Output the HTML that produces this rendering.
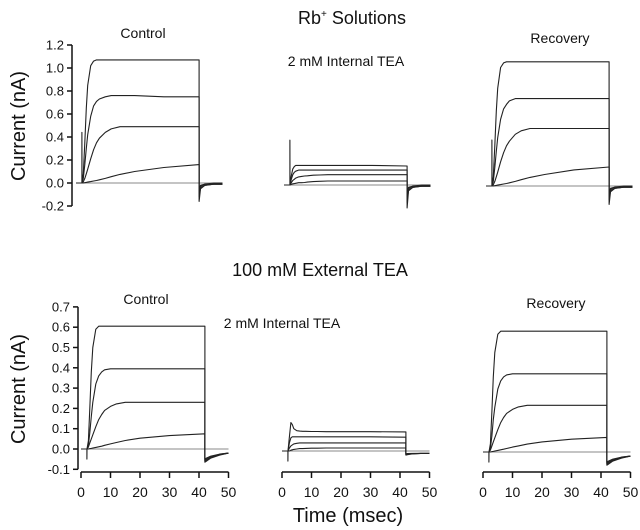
<!DOCTYPE html>
<html><head><meta charset="utf-8"><style>
body{margin:0;background:#fff;width:640px;height:530px;overflow:hidden}
svg{display:block}
text{font-family:"Liberation Sans",sans-serif;fill:#111}
</style></head><body>
<svg id="fig" width="640" height="530" viewBox="0 0 640 530">
<text x="352" y="24" font-size="18" text-anchor="middle">Rb<tspan dy="-7" font-size="10">+</tspan><tspan dy="7"> Solutions</tspan></text>
<text x="143" y="38" font-size="14" text-anchor="middle">Control</text>
<text x="346" y="66" font-size="14" text-anchor="middle">2 mM Internal TEA</text>
<text x="560" y="43" font-size="14" text-anchor="middle">Recovery</text>
<text x="320" y="276" font-size="18" text-anchor="middle">100 mM External TEA</text>
<text x="146" y="304" font-size="14" text-anchor="middle">Control</text>
<text x="282" y="328" font-size="14" text-anchor="middle">2 mM Internal TEA</text>
<text x="556" y="308" font-size="14" text-anchor="middle">Recovery</text>
<text transform="translate(25,126) rotate(-90)" font-size="20" text-anchor="middle">Current (nA)</text>
<text transform="translate(25,389) rotate(-90)" font-size="20" text-anchor="middle">Current (nA)</text>
<text x="348" y="522" font-size="20" text-anchor="middle">Time (msec)</text>
<g id="plot"></g>
</svg>
<script>
const times=[0,2,2,2.05,2.5,3,3.5,4,5,6,7,8,10,12,15,20,30,42,42,42.5,44,47,50];
const topTicks=["-0.2","0.0","0.2","0.4","0.6","0.8","1.0","1.2"];
const botTicks=["-0.1","0.0","0.1","0.2","0.3","0.4","0.5","0.6","0.7"];
const xTicks=["0","10","20","30","40","50"];
// top control
const tc1=[0,0,0.44,0,0.08,0.35,0.65,0.85,1.02,1.06,1.07,1.07,1.07,1.07,1.07,1.07,1.07,1.07,-0.16,-0.05,-0.02,-0.01,-0.01];
const tc2=[0,0,0,0,0.04,0.16,0.3,0.42,0.58,0.67,0.71,0.73,0.75,0.76,0.76,0.76,0.75,0.75,-0.12,-0.04,-0.02,-0.01,-0.01];
const tc3=[0,0,0,0,0.01,0.04,0.08,0.12,0.21,0.29,0.35,0.39,0.44,0.47,0.49,0.49,0.49,0.49,-0.09,-0.03,-0.01,-0.01,-0.01];
const tc4=[0,0,0,0,0,0.003,0.005,0.008,0.012,0.017,0.022,0.028,0.04,0.055,0.075,0.1,0.135,0.16,-0.05,-0.02,-0.01,0,0];
// top internal TEA
const tm1=[0,0,0.39,0,0.08,0.14,0.16,0.17,0.17,0.17,0.17,0.17,0.17,0.17,0.17,0.17,0.17,0.165,-0.2,-0.05,-0.02,-0.01,-0.01];
const tm2=[0,0,0,0,0.05,0.09,0.11,0.12,0.13,0.13,0.13,0.13,0.13,0.13,0.13,0.13,0.13,0.13,-0.15,-0.04,-0.02,-0.01,-0.01];
const tm3=[0,0,0,0,0.02,0.04,0.05,0.06,0.07,0.075,0.078,0.08,0.085,0.087,0.09,0.09,0.09,0.09,-0.1,-0.03,-0.01,-0.01,-0.01];
const tm4=[0,0,0,0,0.005,0.01,0.012,0.015,0.02,0.02,0.022,0.025,0.03,0.032,0.035,0.035,0.035,0.035,-0.06,-0.02,-0.01,0,0];
// top recovery
const tr1=[0,0,0.4,0,0.08,0.35,0.65,0.85,1.03,1.07,1.08,1.08,1.08,1.08,1.08,1.08,1.08,1.08,-0.16,-0.05,-0.02,-0.01,-0.01];
const tr2=[0,0,0,0,0.04,0.16,0.3,0.42,0.58,0.67,0.71,0.74,0.76,0.76,0.76,0.76,0.76,0.76,-0.12,-0.04,-0.02,-0.01,-0.01];
const tr3=[0,0,0,0,0.01,0.04,0.08,0.12,0.21,0.29,0.35,0.39,0.45,0.48,0.5,0.5,0.5,0.5,-0.09,-0.03,-0.01,-0.01,-0.01];
const tr4=[0,0,0,0,0,0.003,0.005,0.008,0.012,0.017,0.022,0.028,0.04,0.055,0.075,0.1,0.14,0.165,-0.05,-0.02,-0.01,0,0];
// bottom control
const bc1=[0,0,-0.05,0,0.04,0.2,0.38,0.5,0.59,0.605,0.605,0.605,0.605,0.605,0.605,0.605,0.605,0.605,-0.065,-0.06,-0.045,-0.03,-0.02];
const bc2=[0,0,0,0,0.02,0.08,0.16,0.23,0.32,0.36,0.38,0.39,0.395,0.395,0.395,0.395,0.395,0.395,-0.06,-0.055,-0.04,-0.028,-0.02];
const bc3=[0,0,0,0,0.01,0.03,0.05,0.07,0.11,0.145,0.17,0.19,0.21,0.222,0.23,0.23,0.23,0.23,-0.055,-0.05,-0.04,-0.026,-0.02];
const bc4=[0,0,0,0,0,0.002,0.003,0.005,0.008,0.011,0.014,0.018,0.025,0.032,0.042,0.053,0.066,0.075,-0.05,-0.045,-0.035,-0.025,-0.02];
// bottom internal TEA
const bm1=[0,0,-0.05,0,0.07,0.14,0.13,0.11,0.1,0.098,0.097,0.097,0.096,0.096,0.095,0.095,0.095,0.094,-0.02,-0.018,-0.015,-0.012,-0.012];
const bm2=[0,0,0,0,0.04,0.065,0.07,0.07,0.07,0.07,0.07,0.07,0.07,0.07,0.07,0.07,0.07,0.068,-0.018,-0.016,-0.014,-0.012,-0.012];
const bm3=[0,0,0,0,0.015,0.025,0.03,0.035,0.038,0.04,0.04,0.04,0.04,0.04,0.04,0.04,0.04,0.04,-0.016,-0.014,-0.013,-0.012,-0.012];
const bm4=[0,0,0,0,0,0.004,0.006,0.008,0.01,0.012,0.012,0.013,0.014,0.014,0.015,0.015,0.015,0.015,-0.014,-0.013,-0.012,-0.012,-0.012];
// bottom recovery
const br1=[0,0,-0.05,0,0.04,0.2,0.37,0.49,0.58,0.595,0.595,0.595,0.595,0.595,0.595,0.595,0.595,0.595,-0.065,-0.06,-0.045,-0.03,-0.02];
const br2=[0,0,0,0,0.02,0.08,0.16,0.22,0.31,0.35,0.37,0.38,0.385,0.385,0.385,0.385,0.385,0.385,-0.06,-0.055,-0.04,-0.028,-0.02];
const br3=[0,0,0,0,0.01,0.03,0.05,0.07,0.11,0.145,0.17,0.19,0.21,0.222,0.23,0.23,0.23,0.23,-0.055,-0.05,-0.04,-0.026,-0.02];
const br4=[0,0,0,0,0,0.002,0.003,0.005,0.008,0.011,0.014,0.017,0.024,0.03,0.039,0.05,0.063,0.072,-0.05,-0.045,-0.035,-0.025,-0.02];

const NS="http://www.w3.org/2000/svg";
const plot=document.getElementById('plot');
function mk(tag,attrs){const e=document.createElementNS(NS,tag);for(const k in attrs)e.setAttribute(k,attrs[k]);plot.appendChild(e);return e;}
const panels=[
 {id:'top-control',x0:76,sx:2.93,y0:183,sy:115,tr:[tc1,tc2,tc3,tc4]},
 {id:'top-internal-tea',x0:284,sx:2.93,y0:185,sy:115,tr:[tm1,tm2,tm3,tm4]},
 {id:'top-recovery',x0:486,sx:2.93,y0:186,sy:115,tr:[tr1,tr2,tr3,tr4]},
 {id:'bottom-control',x0:81,sx:2.95,y0:449,sy:203,tr:[bc1,bc2,bc3,bc4]},
 {id:'bottom-internal-tea',x0:282,sx:2.95,y0:451,sy:203,tr:[bm1,bm2,bm3,bm4]},
 {id:'bottom-recovery',x0:483,sx:2.95,y0:452,sy:203,tr:[br1,br2,br3,br4]}
];
panels.forEach(p=>{
 const X=t=>p.x0+t*p.sx, Y=v=>p.y0-v*p.sy;
 const b=mk('line',{x1:X(0),x2:X(50),y1:Y(0),y2:Y(0),stroke:'#888','stroke-width':1});
 
 
 p.tr.forEach((vals,i)=>{
  const pts=times.map((t,j)=>X(t).toFixed(1)+','+Y(vals[j]).toFixed(1)).join(' ');
  const pl=mk('polyline',{points:pts,fill:'none',stroke:'#222','stroke-width':1.1,'stroke-linejoin':'round'});
  
  
 });
});
function yAxis(name,ax,y0,sy,ticks){
 const vals=ticks.map(Number);
 const Y=v=>y0-v*sy;
 const l=mk('line',{x1:ax,x2:ax,y1:Y(vals[vals.length-1]),y2:Y(vals[0]),stroke:'#111','stroke-width':1.5});
 
 
 ticks.forEach((s,i)=>{
  mk('line',{x1:ax-5,x2:ax,y1:Y(vals[i]),y2:Y(vals[i]),stroke:'#111','stroke-width':1.5});
  const t=mk('text',{x:ax-8,y:Y(vals[i])+4.5,'font-size':13,'text-anchor':'end'});
  t.textContent=s;
  
  
 });
}
yAxis('top-y-axis',72,183,115,topTicks);
yAxis('bottom-y-axis',78,449,203,botTicks);
[81,282,483].forEach((x0,k)=>{
 const X=t=>x0+t*2.95, ya=472;
 const l=mk('line',{x1:X(0),x2:X(50),y1:ya,y2:ya,stroke:'#111','stroke-width':1.5});
 
 
 xTicks.forEach(s=>{
  const v=Number(s);
  mk('line',{x1:X(v),x2:X(v),y1:ya,y2:ya+6,stroke:'#111','stroke-width':1.5});
  const t=mk('text',{x:X(v),y:497,'font-size':14,'text-anchor':'middle'});
  t.textContent=s;
  
  
 });
});
</script>
</body></html>
